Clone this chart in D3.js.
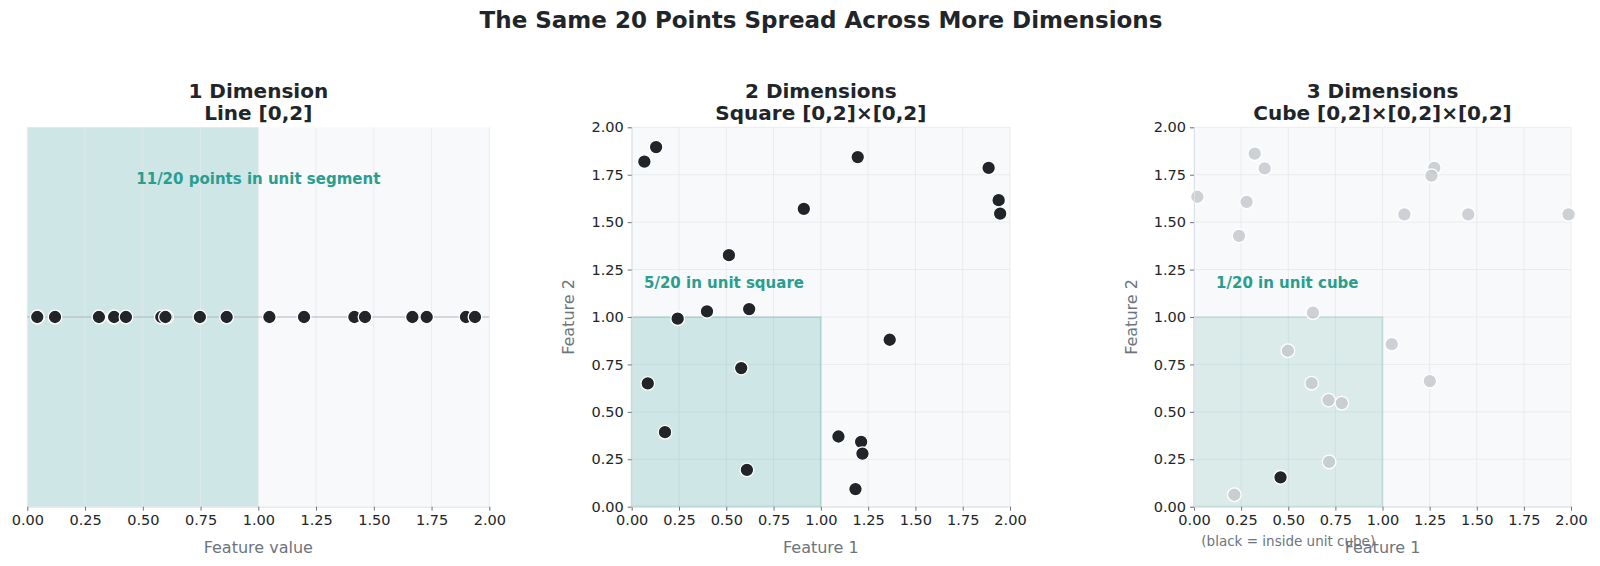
<!DOCTYPE html>
<html>
<head>
<meta charset="utf-8">
<script src="https://cdn.jsdelivr.net/npm/d3@7"></script>
<style>
  body { margin: 0; background: #fff; }
  svg { font-family: "DejaVu Sans", sans-serif; }
</style>
</head>
<body>
<svg></svg>
<script>
const width = 1600;
const height = 566;

// data
const line1d = [0.045, 0.043, 0.12, 0.31, 0.372, 0.376, 0.427, 0.58, 0.603, 0.598, 0.747, 0.863,
  1.048, 1.198, 1.416, 1.462, 1.667, 1.729, 1.899, 1.938];

const sq2dX = [0.067, 0.129, 1.195, 1.887, 0.91, 0.514, 0.243, 0.398, 0.621, 1.364,
  0.579, 0.085, 0.176, 0.609, 1.093, 1.213, 1.22, 1.183, 1.94, 1.948];
const sq2dY = [1.819, 1.896, 1.843, 1.786, 1.57, 1.326, 0.991, 1.03, 1.042, 0.88,
  0.731, 0.65, 0.393, 0.194, 0.37, 0.342, 0.28, 0.093, 1.616, 1.545];

const cubeX = [0.018, 0.322, 0.375, 0.279, 0.239, 1.275, 1.26, 1.116, 1.455, 1.987,
  0.631, 0.498, 1.049, 0.624, 0.714, 0.784, 1.251, 0.717, 0.214, 0.459];
const cubeY = [1.634, 1.861, 1.783, 1.607, 1.428, 1.786, 1.745, 1.541, 1.541, 1.541,
  1.023, 0.822, 0.857, 0.651, 0.562, 0.546, 0.662, 0.236, 0.063, 0.155];
const cubeInside = [false, false, false, false, false, false, false, false, false, false,
  false, false, false, false, false, false, false, false, false, true];

const ticks = [0, 0.25, 0.5, 0.75, 1, 1.25, 1.5, 1.75, 2];

const teal = "#2a9d8f";
const dark = "#212529";
const ptR = 6.8;

const svg = d3.select("svg").attr("width", width).attr("height", height);

svg.append("text")
  .attr("x", 821).attr("y", 28)
  .attr("text-anchor", "middle")
  .attr("font-size", 23).attr("font-weight", "bold")
  .attr("fill", dark)
  .text("The Same 20 Points Spread Across More Dimensions");

const plotTop = 127.3, plotBottom = 506.7;

function panel(left, right, title1, title2) {
  const g = svg.append("g");
  const x = d3.scaleLinear().domain([0, 2]).range([left, right]);
  const y = d3.scaleLinear().domain([0, 2]).range([plotBottom, plotTop]);

  g.append("rect")
    .attr("x", left).attr("y", plotTop)
    .attr("width", right - left).attr("height", plotBottom - plotTop)
    .attr("fill", "#f8f9fa");

  const cx = (left + right) / 2;
  g.append("text").attr("x", cx).attr("y", 98)
    .attr("text-anchor", "middle").attr("font-size", 20).attr("font-weight", "bold")
    .attr("fill", dark).text(title1);
  g.append("text").attr("x", cx).attr("y", 120)
    .attr("text-anchor", "middle").attr("font-size", 20).attr("font-weight", "bold")
    .attr("fill", dark).text(title2);

  return { g, x, y };
}

function grid(p, horiz) {
  p.g.append("g").selectAll("line").data(ticks).join("line")
    .attr("x1", d => p.x(d)).attr("x2", d => p.x(d))
    .attr("y1", plotTop).attr("y2", plotBottom)
    .attr("stroke", "#e6e8eb").attr("stroke-width", 0.8);
  if (horiz) {
    p.g.append("g").selectAll("line").data(ticks).join("line")
      .attr("y1", d => p.y(d)).attr("y2", d => p.y(d))
      .attr("x1", p.x(0)).attr("x2", p.x(2))
      .attr("stroke", "#e6e8eb").attr("stroke-width", 0.8);
  }
}

function axes(p, xlabel, showY) {
  const xa = p.g.append("g")
    .attr("transform", `translate(0,${plotBottom})`)
    .call(d3.axisBottom(p.x).tickValues(ticks).tickFormat(d3.format(".2f")).tickSize(4).tickPadding(4));
  xa.select(".domain").attr("stroke", "#dee2e6");
  xa.selectAll(".tick line").attr("stroke", "#6c757d");
  xa.selectAll("text").attr("font-size", 14.5).attr("fill", dark).attr("font-family", "DejaVu Sans");
  p.g.append("text")
    .attr("x", (p.x(0) + p.x(2)) / 2).attr("y", 552.5)
    .attr("text-anchor", "middle").attr("font-size", 16).attr("fill", "#6c757d")
    .text(xlabel);
  if (showY) {
    const ya = p.g.append("g")
      .attr("transform", `translate(${p.x(0)},0)`)
      .call(d3.axisLeft(p.y).tickValues(ticks).tickFormat(d3.format(".2f")).tickSize(4).tickPadding(4));
    ya.select(".domain").attr("stroke", "#dee2e6");
    ya.selectAll(".tick line").attr("stroke", "#6c757d");
    ya.selectAll("text").attr("font-size", 14.5).attr("fill", dark).attr("font-family", "DejaVu Sans");
    p.g.append("text")
      .attr("transform", `translate(${p.x(0) - 62},${(plotTop + plotBottom) / 2}) rotate(-90)`)
      .attr("text-anchor", "middle").attr("dominant-baseline", "middle")
      .attr("font-size", 16).attr("fill", "#6c757d")
      .text("Feature 2");
  }
}

// ---- panel 1
const p1 = panel(27.3, 489.3, "1 Dimension", "Line [0,2]");
p1.y.domain([-1, 1]);
p1.g.append("rect")
  .attr("x", p1.x(0)).attr("y", plotTop)
  .attr("width", p1.x(1) - p1.x(0)).attr("height", plotBottom - plotTop)
  .attr("fill", teal).attr("fill-opacity", 0.2);
grid(p1, false);
p1.g.append("line")
  .attr("x1", p1.x(0)).attr("x2", p1.x(2))
  .attr("y1", p1.y(0)).attr("y2", p1.y(0))
  .attr("stroke", "#adb5bd").attr("stroke-width", 1.2);
p1.g.append("g").selectAll("circle").data(line1d).join("circle")
  .attr("cx", d => p1.x(d)).attr("cy", p1.y(0)).attr("r", ptR)
  .attr("fill", dark).attr("stroke", "#fff").attr("stroke-width", 1.3);
p1.g.append("text")
  .attr("x", p1.x(1)).attr("y", p1.y(0.726))
  .attr("text-anchor", "middle").attr("dominant-baseline", "middle")
  .attr("font-size", 15).attr("font-weight", "bold").attr("fill", teal)
  .text("11/20 points in unit segment");
axes(p1, "Feature value", false);

// ---- panel 2
const p2 = panel(631.7, 1010, "2 Dimensions", "Square [0,2]\u00d7[0,2]");
grid(p2, true);
p2.g.append("rect")
  .attr("x", p2.x(0)).attr("y", p2.y(1))
  .attr("width", p2.x(1) - p2.x(0)).attr("height", p2.y(0) - p2.y(1))
  .attr("fill", teal).attr("fill-opacity", 0.2)
  .attr("stroke", teal).attr("stroke-opacity", 0.2).attr("stroke-width", 2);
p2.g.append("g").selectAll("circle").data(sq2dX).join("circle")
  .attr("cx", d => p2.x(d)).attr("cy", (d, i) => p2.y(sq2dY[i])).attr("r", ptR)
  .attr("fill", dark).attr("stroke", "#fff").attr("stroke-width", 1.3);
p2.g.append("text")
  .attr("x", p2.x(0.065)).attr("y", p2.y(1.175))
  .attr("dominant-baseline", "middle")
  .attr("font-size", 15).attr("font-weight", "bold").attr("fill", teal)
  .text("5/20 in unit square");
axes(p2, "Feature 1", true);

// ---- panel 3
const p3 = panel(1194, 1571, "3 Dimensions", "Cube [0,2]\u00d7[0,2]\u00d7[0,2]");
grid(p3, true);
p3.g.append("rect")
  .attr("x", p3.x(0)).attr("y", p3.y(1))
  .attr("width", p3.x(1) - p3.x(0)).attr("height", p3.y(0) - p3.y(1))
  .attr("fill", teal).attr("fill-opacity", 0.14)
  .attr("stroke", teal).attr("stroke-opacity", 0.15).attr("stroke-width", 2);
p3.g.append("g").selectAll("circle").data(cubeX).join("circle")
  .attr("cx", d => p3.x(d)).attr("cy", (d, i) => p3.y(cubeY[i])).attr("r", ptR)
  .attr("fill", (d, i) => cubeInside[i] ? dark : "#c6c9cc")
  .attr("fill-opacity", (d, i) => cubeInside[i] ? 1 : 0.85)
  .attr("stroke", "#fff").attr("stroke-width", 1.3);
p3.g.append("text")
  .attr("x", p3.x(0.117)).attr("y", p3.y(1.175))
  .attr("dominant-baseline", "middle")
  .attr("font-size", 15).attr("font-weight", "bold").attr("fill", teal)
  .text("1/20 in unit cube");
axes(p3, "Feature 1", true);
p3.g.append("text")
  .attr("x", p3.x(0.5)).attr("y", 545.5)
  .attr("text-anchor", "middle").attr("font-size", 13.5).attr("fill", "#6c757d")
  .text("(black = inside unit cube)");
</script>
</body>
</html>
